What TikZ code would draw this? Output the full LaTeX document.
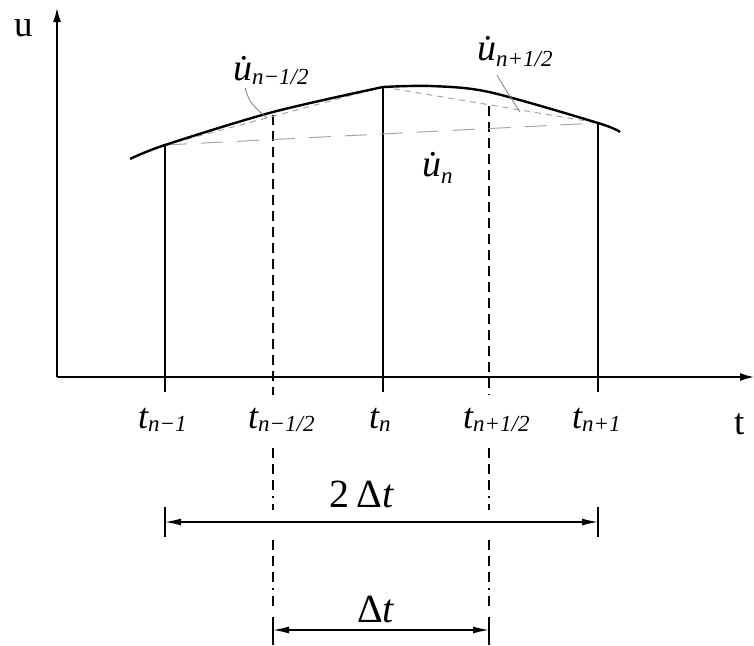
\documentclass[tikz,border=0pt]{standalone}
\usepackage{fontspec}
\setmainfont{Liberation Serif}
\usetikzlibrary{arrows.meta}
\newcommand\mysub[2][-3pt]{\raisebox{#1}{\fontsize{23}{23}\selectfont\itshape #2}}
\begin{document}
\begin{tikzpicture}[x=1pt,y=-1pt,
  axis/.style={line width=1.6pt,-{Latex[length=14pt,width=8pt]}},
  vline/.style={line width=1.6pt},
  dline/.style={line width=1.6pt,dash pattern=on 10pt off 6pt},
  curve/.style={line width=2.4pt},
  chordA/.style={gray!70,line width=1pt,dash pattern=on 6pt off 5pt},
  chordB/.style={gray!70,line width=1pt,dash pattern=on 22pt off 14pt},
  ext/.style={black,line width=1.8pt,dash pattern=on 10pt off 6pt on 10pt off 6pt on 10pt off 6pt on 1.5pt off 6pt},
  dim/.style={line width=1.4pt,{Latex[length=16pt,width=7pt]}-{Latex[length=16pt,width=7pt]}},
  bar/.style={line width=1.6pt},
  lead/.style={gray,line width=0.8pt},
  lab/.style={inner sep=0pt,anchor=base west,font=\fontsize{36}{36}\selectfont\itshape},
  ulab/.style={inner sep=0pt,anchor=base west,font=\fontsize{38}{38}\selectfont\itshape},
  alab/.style={inner sep=0pt,anchor=base west,font=\fontsize{37}{37}\selectfont},
  dlab/.style={inner sep=0pt,anchor=base,font=\fontsize{40}{40}\selectfont},
]
\useasboundingbox (0,0) rectangle (754,645);
% key points
\coordinate (O) at (57,377);
\coordinate (Ytop) at (57,8);
\coordinate (Xend) at (754,377);
\coordinate (S) at (130,159);
\coordinate (P1) at (165,145);
\coordinate (Pm) at (273,112);
\coordinate (P2) at (383,87);
\coordinate (Pk) at (430,86);
\coordinate (Pp) at (489,92);
\coordinate (P3) at (598,123);
\coordinate (E) at (620,132);
\coordinate (Cm) at (273,115);
\coordinate (Cp) at (489,106);
\coordinate (F1) at (165,392);
\coordinate (Fm) at (273,395);
\coordinate (F2) at (383,392);
\coordinate (Fp) at (489,395);
\coordinate (F3) at (598,392);
% axes
\draw[axis] (O) -- (Ytop);
\draw[axis] (O) -- (Xend);
% solid verticals
\draw[vline] (P1) -- (F1);
\draw[vline] (P2) -- (F2);
\draw[vline] (P3) -- (F3);
% dashed verticals
\draw[dline] (Cm) -- (Fm);
\draw[dline] (Cp) -- (Fp);
% chords
\draw[chordA] (P1) -- (P2);
\draw[chordA] (P2) -- (P3);
\draw[chordB] (P1) -- (P3);
% curve
\draw[curve] plot[smooth] coordinates {(S) (P1) (Pm) (P2)};
\draw[curve] plot[smooth] coordinates {(P2) (Pk) (Pp) (P3) (E)};
% leaders
\coordinate (La) at (245,88);
\coordinate (Lb) at (267,118);
\coordinate (Lc) at (497,75);
\coordinate (Ld) at (520,112);
\draw[lead] (La) .. controls (250,103) .. (Lb);
\draw[lead] (Lc) .. controls (507,92) .. (Ld);
% labels of derivatives
\node[ulab] (um) at (233,80) {\.{u}\mysub[-4pt]{n−1/2}};
\node[ulab] (up) at (477,60) {\.{u}\mysub[-6pt]{n+1/2}};
\node[ulab] (un) at (422,176) {\.{u}\mysub[-7pt]{n}};
% axis labels
\node[alab] (ul) at (14,36) {u};
\node[alab] (tl) at (734,434) {t};
% tick labels
\node[lab] (t1) at (138,428) {t\mysub{n−1}};
\node[lab] (tm) at (248,428) {t\mysub{n−1/2}};
\node[lab] (t2) at (369,428) {t\mysub{n}};
\node[lab] (tp) at (463,428) {t\mysub{n+1/2}};
\node[lab] (t3) at (572,428) {t\mysub{n+1}};
% extensions below the axis
\coordinate (Ma1) at (273,448); \coordinate (Ma2) at (273,510);
\coordinate (Ma3) at (273,540); \coordinate (Ma4) at (273,606);
\coordinate (Pa1) at (489,448); \coordinate (Pa2) at (489,510);
\coordinate (Pa3) at (489,540); \coordinate (Pa4) at (489,606);
\draw[ext] (Ma1) -- (Ma2);
\draw[ext] (Ma3) -- (Ma4);
\draw[ext] (Pa1) -- (Pa2);
\draw[ext] (Pa3) -- (Pa4);
% dimension 2 dt
\coordinate (B1a) at (165,507); \coordinate (B1b) at (165,537);
\coordinate (B3a) at (598,507); \coordinate (B3b) at (598,537);
\coordinate (D1) at (165,522); \coordinate (D3) at (598,522);
\draw[bar] (B1a) -- (B1b);
\draw[bar] (B3a) -- (B3b);
\draw[dim] (D1) -- (D3);
\node[dlab] (d2) at (362,507) {2\,Δ\textit{t}};
% dimension dt
\coordinate (Bma) at (273,617); \coordinate (Bmb) at (273,645);
\coordinate (Bpa) at (489,617); \coordinate (Bpb) at (489,645);
\coordinate (Dm) at (273,630); \coordinate (Dp) at (489,630);
\draw[bar] (Bma) -- (Bmb);
\draw[bar] (Bpa) -- (Bpb);
\draw[dim] (Dm) -- (Dp);
\node[dlab] (d1) at (376,622) {Δ\textit{t}};
\end{tikzpicture}
\end{document}
